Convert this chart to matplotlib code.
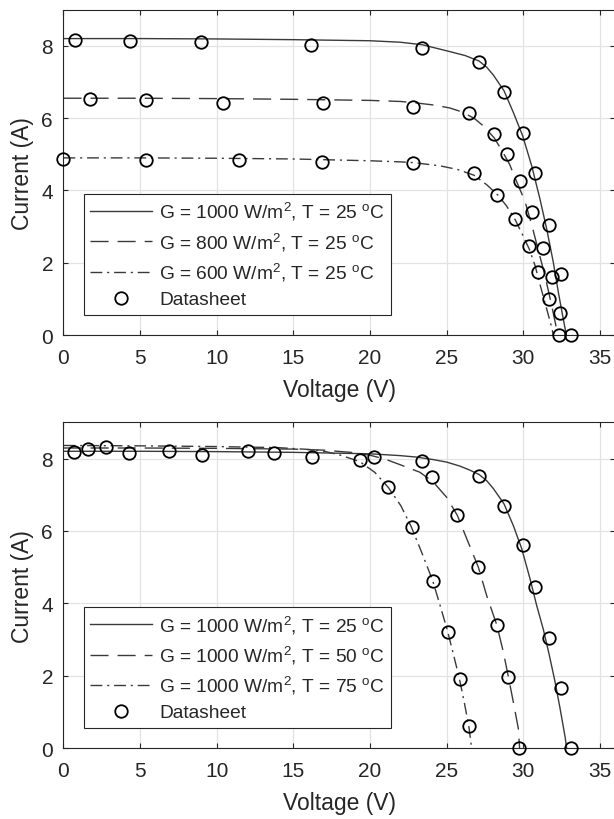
# PV module I-V curves vs datasheet - two panels (irradiance / temperature)
import matplotlib
matplotlib.use("Agg")
import matplotlib.pyplot as plt

plt.rcParams["font.family"] = ["Liberation Sans", "DejaVu Sans"]
plt.rcParams["mathtext.fontset"] = "custom"
plt.rcParams["mathtext.rm"] = "Liberation Sans"
plt.rcParams["mathtext.it"] = "Liberation Sans:italic"
plt.rcParams["mathtext.default"] = "regular"

INK = "#262626"
LINE = "#3a3a3a"

# ---- top panel: irradiance, T = 25 C ----
v_g1000 = [0, 5, 10, 15, 20, 21.95, 23.4, 25.2, 26.2, 27.1, 27.6, 28.04, 28.73, 29.34,
           29.95, 30.54, 31.08, 31.52, 31.95, 32.28, 32.6, 32.8]
i_g1000 = [8.2, 8.2, 8.19, 8.17, 8.14, 8.1, 8.03, 7.84, 7.73, 7.58, 7.41, 7.19, 6.76, 6.16,
           5.51, 4.68, 3.76, 2.93, 2.01, 1.18, 0.44, 0]

v_g800 = [0, 5, 10, 15, 20, 22, 23, 24.2, 25.2, 26.0, 26.8, 27.4, 28.1, 28.6, 29.1, 29.6,
          30.1, 30.54, 31.0, 31.4, 31.8, 32.1, 32.2]
i_g800 = [6.55, 6.55, 6.54, 6.52, 6.49, 6.46, 6.42, 6.36, 6.28, 6.17, 5.99, 5.78, 5.45, 5.1,
          4.72, 4.2, 3.7, 3.05, 2.3, 1.65, 0.9, 0.3, 0]

v_g600 = [0, 5, 10, 15, 20, 21.95, 22.8, 24.56, 25.7, 26.78, 27.6, 28.36, 28.9, 29.45,
          29.89, 30.39, 30.76, 31.08, 31.52, 31.85, 31.95]
i_g600 = [4.9, 4.9, 4.89, 4.87, 4.82, 4.79, 4.77, 4.68, 4.58, 4.42, 4.16, 3.86, 3.57, 3.2,
          2.82, 2.37, 1.92, 1.4, 0.72, 0.2, 0]

ds_g1000_v = [0.75, 4.34, 8.98, 16.17, 23.4, 27.1, 28.73, 29.95, 30.76, 31.69, 32.43, 32.4, 33.1]
ds_g1000_i = [8.16, 8.14, 8.11, 8.03, 7.93, 7.54, 6.71, 5.6, 4.47, 3.04, 1.68, 0.61, 0]
ds_g800_v = [1.76, 5.41, 10.43, 16.91, 22.8, 26.45, 28.06, 28.9, 29.8, 30.54, 31.3, 31.85, 32.3]
ds_g800_i = [6.53, 6.5, 6.43, 6.41, 6.31, 6.14, 5.55, 5.0, 4.25, 3.41, 2.42, 1.6, 0]
ds_g600_v = [0.0, 5.36, 11.45, 16.84, 22.8, 26.75, 28.3, 29.45, 30.39, 30.97, 31.69]
ds_g600_i = [4.87, 4.85, 4.83, 4.79, 4.75, 4.47, 3.88, 3.22, 2.47, 1.75, 1.0]

# ---- bottom panel: temperature, G = 1000 W/m2 ----
v_t25 = [0, 5, 10, 15, 20, 21.95, 23.0, 24.12, 25.0, 25.86, 26.5, 27.1, 27.6, 28.04, 28.73,
         29.34, 29.89, 30.43, 30.86, 31.3, 31.69, 32.06, 32.39, 32.72, 32.82]
i_t25 = [8.2, 8.2, 8.19, 8.17, 8.13, 8.08, 8.04, 7.97, 7.9, 7.79, 7.68, 7.56, 7.39, 7.17, 6.75,
         6.15, 5.51, 4.68, 3.95, 3.28, 2.57, 1.84, 1.1, 0.31, 0]

v_t50 = [0, 5, 10, 15, 17, 19, 20, 21, 21.95, 23.25, 24.12, 24.99, 25.69, 26.3, 27.06, 27.6,
         28.26, 28.69, 29.02, 29.34, 29.67, 29.75]
i_t50 = [8.29, 8.29, 8.28, 8.26, 8.23, 8.16, 8.09, 7.98, 7.83, 7.62, 7.35, 6.93, 6.43, 5.79,
         5.0, 4.22, 3.41, 2.66, 1.97, 1.28, 0.54, 0]

v_t75 = [0, 5, 10, 14, 16, 17, 18, 19.3, 20.3, 21.19, 22.0, 22.68, 23.39, 24.08, 24.54, 25.05,
         25.43, 25.82, 26.15, 26.45, 26.62]
i_t75 = [8.36, 8.35, 8.33, 8.3, 8.25, 8.2, 8.1, 7.92, 7.62, 7.2, 6.7, 6.12, 5.38, 4.63, 3.98,
         3.24, 2.6, 1.93, 1.25, 0.58, 0]

ds_t25_v = [0.68, 4.29, 9.01, 16.19, 23.41, 27.1, 28.73, 29.95, 30.76, 31.69, 32.43, 33.13]
ds_t25_i = [8.18, 8.15, 8.1, 8.04, 7.93, 7.53, 6.7, 5.6, 4.45, 3.04, 1.67, 0]
ds_t50_v = [1.62, 6.88, 13.73, 20.27, 24.06, 25.69, 27.06, 28.26, 29.02, 29.7]
ds_t50_i = [8.27, 8.22, 8.15, 8.04, 7.49, 6.43, 5.0, 3.41, 1.96, 0]
ds_t75_v = [2.77, 12.02, 19.34, 21.19, 22.75, 24.12, 25.1, 25.88, 26.45]
ds_t75_i = [8.33, 8.22, 7.95, 7.21, 6.1, 4.61, 3.22, 1.91, 0.61]

x_ticks = [0, 5, 10, 15, 20, 25, 30, 35]
y_ticks = [0, 2, 4, 6, 8]

STYLES = [
    dict(linestyle="-"),
    dict(linestyle=(0, (13, 6.5))),
    dict(linestyle=(0, (8.5, 3.5, 1.5, 3.5))),
]


def draw_panel(ax, curves, labels, ds_v, ds_i):
    for (v, i), lab, st in zip(curves, labels, STYLES):
        ax.plot(v, i, color=LINE, linewidth=1.0, label=lab, **st)
    ax.plot(ds_v, ds_i, linestyle="none", marker="o", markersize=9, markerfacecolor="none",
            markeredgecolor="black", markeredgewidth=1.3, label="Datasheet", clip_on=False, zorder=5)

    ax.set_xlim(0, 36)
    ax.set_ylim(0, 9)
    ax.set_xticks(x_ticks)
    ax.set_yticks(y_ticks)
    ax.grid(True, color="#e3e3e3", linewidth=0.9)
    ax.set_axisbelow(True)
    for s in ax.spines.values():
        s.set_color(INK)
        s.set_linewidth(0.8)
    ax.tick_params(direction="in", length=3.6, width=0.8, color=INK, labelcolor=INK,
                   labelsize=15, top=True, right=True)
    ax.tick_params(axis="x", pad=9)
    ax.tick_params(axis="y", pad=7.5)
    ax.set_xlabel("Voltage (V)", fontsize=16.5, color=INK, labelpad=8)
    ax.set_ylabel("Current (A)", fontsize=16.5, color=INK, labelpad=5)

    leg = ax.legend(loc="lower left", bbox_to_anchor=(0.037, 0.063), borderaxespad=0,
                    fontsize=13.8, handlelength=3.2, handletextpad=0.4, borderpad=0.33,
                    labelspacing=0.42, fancybox=False, framealpha=1, edgecolor=INK)
    leg.get_frame().set_linewidth(0.8)
    for t in leg.get_texts():
        t.set_color(INK)


fig = plt.figure(figsize=(6.14, 8.2), dpi=100)
ax_top = fig.add_axes([0.1034, 0.5902, 0.8989, 0.3968])
ax_bot = fig.add_axes([0.1034, 0.0862, 0.8989, 0.3976])

draw_panel(
    ax_top,
    [(v_g1000, i_g1000), (v_g800, i_g800), (v_g600, i_g600)],
    [r"G = 1000 W/m$^2$, T = 25 $^\mathrm{o}$C",
     r"G = 800 W/m$^2$, T = 25 $^\mathrm{o}$C",
     r"G = 600 W/m$^2$, T = 25 $^\mathrm{o}$C"],
    ds_g1000_v + ds_g800_v + ds_g600_v,
    ds_g1000_i + ds_g800_i + ds_g600_i,
)
draw_panel(
    ax_bot,
    [(v_t25, i_t25), (v_t50, i_t50), (v_t75, i_t75)],
    [r"G = 1000 W/m$^2$, T = 25 $^\mathrm{o}$C",
     r"G = 1000 W/m$^2$, T = 50 $^\mathrm{o}$C",
     r"G = 1000 W/m$^2$, T = 75 $^\mathrm{o}$C"],
    ds_t25_v + ds_t50_v + ds_t75_v,
    ds_t25_i + ds_t50_i + ds_t75_i,
)

fig.savefig("out.png", dpi=100)
